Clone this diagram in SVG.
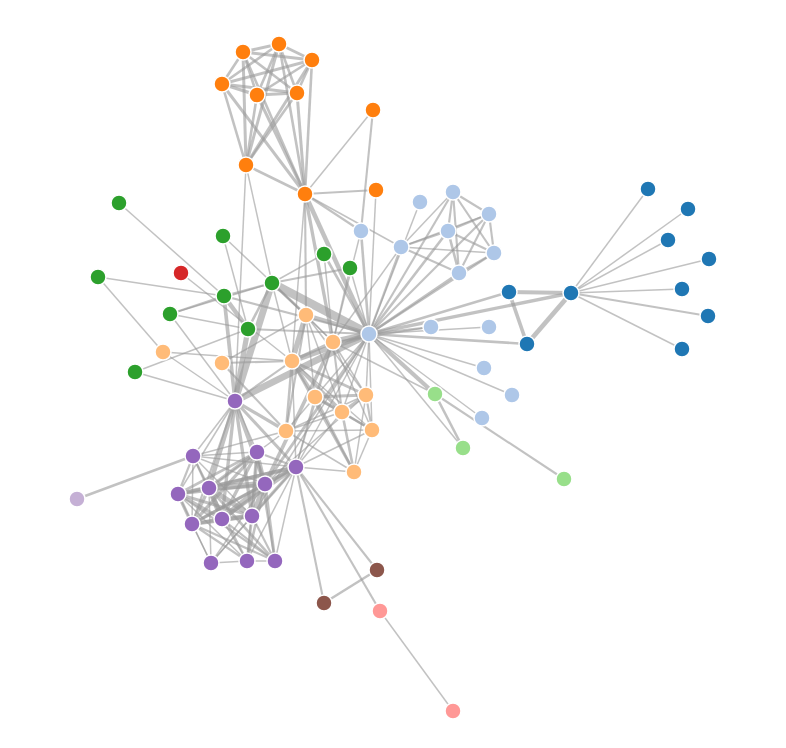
<svg xmlns="http://www.w3.org/2000/svg" width="786" height="748" viewBox="0 0 786 748">
<style>
#links line{stroke:#999;stroke-opacity:0.6}
.w1{stroke-width:1.5}.w2{stroke-width:2.12}.w3{stroke-width:2.6}.w4{stroke-width:3}.w5{stroke-width:3.35}.w6{stroke-width:3.67}.w7{stroke-width:3.97}.w8{stroke-width:4.24}.w9{stroke-width:4.5}.w10{stroke-width:4.74}.w12{stroke-width:5.2}.w13{stroke-width:5.41}.w15{stroke-width:5.81}.w17{stroke-width:6.18}.w19{stroke-width:6.54}.w21{stroke-width:6.87}.w31{stroke-width:8.35}
#nodes circle{r:8px;stroke:#fff;stroke-width:1.5}
.g0{fill:#98df8a}.g1{fill:#1f77b4}.g2{fill:#aec7e8}.g3{fill:#ff7f0e}.g4{fill:#ffbb78}.g5{fill:#2ca02c}.g6{fill:#d62728}.g7{fill:#ff9896}.g8{fill:#9467bd}.g9{fill:#c5b0d5}.g10{fill:#8c564b}
</style>
<rect width="786" height="748" fill="#fff"/>
<g id="links">
<line class="w1" x1="648" y1="189" x2="571" y2="293"/>
<line class="w8" x1="509" y1="292" x2="571" y2="293"/>
<line class="w10" x1="527" y1="344" x2="571" y2="293"/>
<line class="w6" x1="527" y1="344" x2="509" y2="292"/>
<line class="w1" x1="688" y1="209" x2="571" y2="293"/>
<line class="w1" x1="668" y1="240" x2="571" y2="293"/>
<line class="w1" x1="709" y1="259" x2="571" y2="293"/>
<line class="w1" x1="682" y1="289" x2="571" y2="293"/>
<line class="w2" x1="708" y1="316" x2="571" y2="293"/>
<line class="w1" x1="682" y1="349" x2="571" y2="293"/>
<line class="w1" x1="369" y1="334" x2="420" y2="202"/>
<line class="w3" x1="369" y1="334" x2="527" y2="344"/>
<line class="w3" x1="369" y1="334" x2="509" y2="292"/>
<line class="w5" x1="369" y1="334" x2="571" y2="293"/>
<line class="w1" x1="376" y1="190" x2="369" y2="334"/>
<line class="w1" x1="489" y1="327" x2="369" y2="334"/>
<line class="w1" x1="484" y1="368" x2="369" y2="334"/>
<line class="w1" x1="512" y1="395" x2="369" y2="334"/>
<line class="w4" x1="243" y1="52" x2="246" y2="165"/>
<line class="w4" x1="279" y1="44" x2="246" y2="165"/>
<line class="w4" x1="279" y1="44" x2="243" y2="52"/>
<line class="w4" x1="312" y1="60" x2="246" y2="165"/>
<line class="w4" x1="312" y1="60" x2="243" y2="52"/>
<line class="w4" x1="312" y1="60" x2="279" y2="44"/>
<line class="w3" x1="222" y1="84" x2="246" y2="165"/>
<line class="w3" x1="222" y1="84" x2="243" y2="52"/>
<line class="w3" x1="222" y1="84" x2="279" y2="44"/>
<line class="w4" x1="222" y1="84" x2="312" y2="60"/>
<line class="w3" x1="257" y1="95" x2="246" y2="165"/>
<line class="w3" x1="257" y1="95" x2="243" y2="52"/>
<line class="w3" x1="257" y1="95" x2="279" y2="44"/>
<line class="w3" x1="257" y1="95" x2="312" y2="60"/>
<line class="w5" x1="257" y1="95" x2="222" y2="84"/>
<line class="w3" x1="297" y1="93" x2="246" y2="165"/>
<line class="w3" x1="297" y1="93" x2="243" y2="52"/>
<line class="w3" x1="297" y1="93" x2="279" y2="44"/>
<line class="w3" x1="297" y1="93" x2="312" y2="60"/>
<line class="w4" x1="297" y1="93" x2="222" y2="84"/>
<line class="w4" x1="297" y1="93" x2="257" y2="95"/>
<line class="w3" x1="305" y1="194" x2="246" y2="165"/>
<line class="w3" x1="305" y1="194" x2="243" y2="52"/>
<line class="w3" x1="305" y1="194" x2="279" y2="44"/>
<line class="w3" x1="305" y1="194" x2="312" y2="60"/>
<line class="w4" x1="305" y1="194" x2="222" y2="84"/>
<line class="w4" x1="305" y1="194" x2="257" y2="95"/>
<line class="w4" x1="305" y1="194" x2="297" y2="93"/>
<line class="w2" x1="305" y1="194" x2="376" y2="190"/>
<line class="w9" x1="305" y1="194" x2="369" y2="334"/>
<line class="w2" x1="306" y1="315" x2="305" y2="194"/>
<line class="w7" x1="306" y1="315" x2="369" y2="334"/>
<line class="w13" x1="292" y1="361" x2="306" y2="315"/>
<line class="w1" x1="292" y1="361" x2="305" y2="194"/>
<line class="w12" x1="292" y1="361" x2="369" y2="334"/>
<line class="w4" x1="272" y1="283" x2="306" y2="315"/>
<line class="w31" x1="272" y1="283" x2="369" y2="334"/>
<line class="w1" x1="272" y1="283" x2="246" y2="165"/>
<line class="w1" x1="272" y1="283" x2="292" y2="361"/>
<line class="w17" x1="333" y1="342" x2="369" y2="334"/>
<line class="w5" x1="333" y1="342" x2="305" y2="194"/>
<line class="w5" x1="333" y1="342" x2="292" y2="361"/>
<line class="w1" x1="333" y1="342" x2="306" y2="315"/>
<line class="w1" x1="333" y1="342" x2="272" y2="283"/>
<line class="w8" x1="435" y1="394" x2="369" y2="334"/>
<line class="w1" x1="435" y1="394" x2="333" y2="342"/>
<line class="w1" x1="401" y1="247" x2="305" y2="194"/>
<line class="w1" x1="401" y1="247" x2="333" y2="342"/>
<line class="w2" x1="401" y1="247" x2="369" y2="334"/>
<line class="w1" x1="373" y1="110" x2="305" y2="194"/>
<line class="w2" x1="361" y1="231" x2="373" y2="110"/>
<line class="w3" x1="361" y1="231" x2="369" y2="334"/>
<line class="w2" x1="361" y1="231" x2="305" y2="194"/>
<line class="w1" x1="361" y1="231" x2="333" y2="342"/>
<line class="w1" x1="482" y1="418" x2="369" y2="334"/>
<line class="w2" x1="431" y1="327" x2="369" y2="334"/>
<line class="w1" x1="431" y1="327" x2="333" y2="342"/>
<line class="w3" x1="448" y1="231" x2="369" y2="334"/>
<line class="w2" x1="448" y1="231" x2="401" y2="247"/>
<line class="w3" x1="459" y1="273" x2="369" y2="334"/>
<line class="w3" x1="459" y1="273" x2="448" y2="231"/>
<line class="w2" x1="459" y1="273" x2="401" y2="247"/>
<line class="w2" x1="453" y1="192" x2="448" y2="231"/>
<line class="w2" x1="453" y1="192" x2="459" y2="273"/>
<line class="w2" x1="453" y1="192" x2="369" y2="334"/>
<line class="w1" x1="453" y1="192" x2="401" y2="247"/>
<line class="w2" x1="489" y1="214" x2="448" y2="231"/>
<line class="w2" x1="489" y1="214" x2="459" y2="273"/>
<line class="w2" x1="489" y1="214" x2="453" y2="192"/>
<line class="w2" x1="489" y1="214" x2="369" y2="334"/>
<line class="w1" x1="489" y1="214" x2="401" y2="247"/>
<line class="w2" x1="494" y1="253" x2="448" y2="231"/>
<line class="w2" x1="494" y1="253" x2="459" y2="273"/>
<line class="w2" x1="494" y1="253" x2="453" y2="192"/>
<line class="w2" x1="494" y1="253" x2="489" y2="214"/>
<line class="w2" x1="494" y1="253" x2="369" y2="334"/>
<line class="w1" x1="494" y1="253" x2="401" y2="247"/>
<line class="w1" x1="163" y1="352" x2="292" y2="361"/>
<line class="w1" x1="181" y1="273" x2="292" y2="361"/>
<line class="w2" x1="286" y1="431" x2="306" y2="315"/>
<line class="w3" x1="286" y1="431" x2="292" y2="361"/>
<line class="w2" x1="222" y1="363" x2="286" y2="431"/>
<line class="w2" x1="222" y1="363" x2="292" y2="361"/>
<line class="w1" x1="222" y1="363" x2="306" y2="315"/>
<line class="w3" x1="324" y1="254" x2="369" y2="334"/>
<line class="w1" x1="324" y1="254" x2="272" y2="283"/>
<line class="w1" x1="324" y1="254" x2="333" y2="342"/>
<line class="w3" x1="463" y1="448" x2="435" y2="394"/>
<line class="w1" x1="463" y1="448" x2="369" y2="334"/>
<line class="w2" x1="564" y1="479" x2="435" y2="394"/>
<line class="w1" x1="380" y1="611" x2="453" y2="711"/>
<line class="w2" x1="296" y1="467" x2="380" y2="611"/>
<line class="w1" x1="296" y1="467" x2="292" y2="361"/>
<line class="w1" x1="296" y1="467" x2="333" y2="342"/>
<line class="w1" x1="296" y1="467" x2="369" y2="334"/>
<line class="w3" x1="248" y1="329" x2="272" y2="283"/>
<line class="w2" x1="248" y1="329" x2="369" y2="334"/>
<line class="w1" x1="223" y1="236" x2="248" y2="329"/>
<line class="w1" x1="223" y1="236" x2="306" y2="315"/>
<line class="w9" x1="224" y1="296" x2="248" y2="329"/>
<line class="w2" x1="224" y1="296" x2="272" y2="283"/>
<line class="w2" x1="224" y1="296" x2="369" y2="334"/>
<line class="w1" x1="98" y1="277" x2="224" y2="296"/>
<line class="w1" x1="98" y1="277" x2="163" y2="352"/>
<line class="w1" x1="119" y1="203" x2="224" y2="296"/>
<line class="w2" x1="170" y1="314" x2="224" y2="296"/>
<line class="w1" x1="170" y1="314" x2="248" y2="329"/>
<line class="w1" x1="170" y1="314" x2="272" y2="283"/>
<line class="w6" x1="235" y1="401" x2="224" y2="296"/>
<line class="w12" x1="235" y1="401" x2="248" y2="329"/>
<line class="w1" x1="235" y1="401" x2="163" y2="352"/>
<line class="w1" x1="235" y1="401" x2="170" y2="314"/>
<line class="w21" x1="235" y1="401" x2="272" y2="283"/>
<line class="w19" x1="235" y1="401" x2="369" y2="334"/>
<line class="w1" x1="235" y1="401" x2="246" y2="165"/>
<line class="w2" x1="235" y1="401" x2="292" y2="361"/>
<line class="w5" x1="235" y1="401" x2="286" y2="431"/>
<line class="w4" x1="235" y1="401" x2="296" y2="467"/>
<line class="w1" x1="135" y1="372" x2="248" y2="329"/>
<line class="w1" x1="135" y1="372" x2="235" y2="401"/>
<line class="w1" x1="193" y1="456" x2="235" y2="401"/>
<line class="w1" x1="193" y1="456" x2="286" y2="431"/>
<line class="w1" x1="193" y1="456" x2="296" y2="467"/>
<line class="w7" x1="265" y1="484" x2="235" y2="401"/>
<line class="w7" x1="265" y1="484" x2="296" y2="467"/>
<line class="w6" x1="265" y1="484" x2="333" y2="342"/>
<line class="w1" x1="265" y1="484" x2="193" y2="456"/>
<line class="w4" x1="265" y1="484" x2="369" y2="334"/>
<line class="w15" x1="222" y1="519" x2="265" y2="484"/>
<line class="w5" x1="222" y1="519" x2="235" y2="401"/>
<line class="w6" x1="222" y1="519" x2="296" y2="467"/>
<line class="w2" x1="222" y1="519" x2="193" y2="456"/>
<line class="w1" x1="275" y1="561" x2="296" y2="467"/>
<line class="w4" x1="275" y1="561" x2="265" y2="484"/>
<line class="w2" x1="275" y1="561" x2="222" y2="519"/>
<line class="w2" x1="257" y1="452" x2="296" y2="467"/>
<line class="w6" x1="257" y1="452" x2="265" y2="484"/>
<line class="w2" x1="257" y1="452" x2="275" y2="561"/>
<line class="w5" x1="257" y1="452" x2="222" y2="519"/>
<line class="w1" x1="257" y1="452" x2="193" y2="456"/>
<line class="w1" x1="257" y1="452" x2="235" y2="401"/>
<line class="w9" x1="209" y1="488" x2="235" y2="401"/>
<line class="w17" x1="209" y1="488" x2="265" y2="484"/>
<line class="w13" x1="209" y1="488" x2="222" y2="519"/>
<line class="w7" x1="209" y1="488" x2="296" y2="467"/>
<line class="w2" x1="209" y1="488" x2="193" y2="456"/>
<line class="w1" x1="209" y1="488" x2="286" y2="431"/>
<line class="w6" x1="209" y1="488" x2="257" y2="452"/>
<line class="w3" x1="209" y1="488" x2="275" y2="561"/>
<line class="w5" x1="178" y1="494" x2="222" y2="519"/>
<line class="w5" x1="178" y1="494" x2="296" y2="467"/>
<line class="w6" x1="178" y1="494" x2="209" y2="488"/>
<line class="w2" x1="178" y1="494" x2="193" y2="456"/>
<line class="w4" x1="178" y1="494" x2="265" y2="484"/>
<line class="w3" x1="178" y1="494" x2="257" y2="452"/>
<line class="w2" x1="178" y1="494" x2="275" y2="561"/>
<line class="w1" x1="178" y1="494" x2="235" y2="401"/>
<line class="w5" x1="252" y1="516" x2="235" y2="401"/>
<line class="w12" x1="252" y1="516" x2="209" y2="488"/>
<line class="w5" x1="252" y1="516" x2="296" y2="467"/>
<line class="w4" x1="252" y1="516" x2="178" y2="494"/>
<line class="w10" x1="252" y1="516" x2="265" y2="484"/>
<line class="w6" x1="252" y1="516" x2="257" y2="452"/>
<line class="w2" x1="252" y1="516" x2="275" y2="561"/>
<line class="w9" x1="252" y1="516" x2="222" y2="519"/>
<line class="w1" x1="252" y1="516" x2="193" y2="456"/>
<line class="w1" x1="252" y1="516" x2="369" y2="334"/>
<line class="w5" x1="192" y1="524" x2="178" y2="494"/>
<line class="w7" x1="192" y1="524" x2="252" y2="516"/>
<line class="w3" x1="192" y1="524" x2="296" y2="467"/>
<line class="w5" x1="192" y1="524" x2="209" y2="488"/>
<line class="w5" x1="192" y1="524" x2="265" y2="484"/>
<line class="w5" x1="192" y1="524" x2="257" y2="452"/>
<line class="w2" x1="192" y1="524" x2="275" y2="561"/>
<line class="w5" x1="192" y1="524" x2="222" y2="519"/>
<line class="w1" x1="192" y1="524" x2="193" y2="456"/>
<line class="w2" x1="192" y1="524" x2="235" y2="401"/>
<line class="w3" x1="247" y1="561" x2="252" y2="516"/>
<line class="w3" x1="247" y1="561" x2="265" y2="484"/>
<line class="w1" x1="247" y1="561" x2="222" y2="519"/>
<line class="w2" x1="247" y1="561" x2="209" y2="488"/>
<line class="w2" x1="247" y1="561" x2="192" y2="524"/>
<line class="w1" x1="247" y1="561" x2="296" y2="467"/>
<line class="w1" x1="247" y1="561" x2="178" y2="494"/>
<line class="w1" x1="247" y1="561" x2="257" y2="452"/>
<line class="w1" x1="247" y1="561" x2="275" y2="561"/>
<line class="w3" x1="77" y1="499" x2="193" y2="456"/>
<line class="w5" x1="315" y1="397" x2="292" y2="361"/>
<line class="w1" x1="315" y1="397" x2="369" y2="334"/>
<line class="w1" x1="315" y1="397" x2="306" y2="315"/>
<line class="w1" x1="315" y1="397" x2="333" y2="342"/>
<line class="w1" x1="315" y1="397" x2="296" y2="467"/>
<line class="w1" x1="315" y1="397" x2="286" y2="431"/>
<line class="w6" x1="342" y1="412" x2="292" y2="361"/>
<line class="w6" x1="342" y1="412" x2="315" y2="397"/>
<line class="w1" x1="342" y1="412" x2="369" y2="334"/>
<line class="w1" x1="342" y1="412" x2="306" y2="315"/>
<line class="w2" x1="342" y1="412" x2="333" y2="342"/>
<line class="w1" x1="342" y1="412" x2="296" y2="467"/>
<line class="w1" x1="342" y1="412" x2="286" y2="431"/>
<line class="w4" x1="366" y1="395" x2="292" y2="361"/>
<line class="w4" x1="366" y1="395" x2="342" y2="412"/>
<line class="w4" x1="366" y1="395" x2="315" y2="397"/>
<line class="w1" x1="366" y1="395" x2="369" y2="334"/>
<line class="w1" x1="366" y1="395" x2="306" y2="315"/>
<line class="w1" x1="366" y1="395" x2="333" y2="342"/>
<line class="w1" x1="366" y1="395" x2="286" y2="431"/>
<line class="w1" x1="366" y1="395" x2="265" y2="484"/>
<line class="w1" x1="372" y1="430" x2="333" y2="342"/>
<line class="w2" x1="372" y1="430" x2="342" y2="412"/>
<line class="w2" x1="372" y1="430" x2="315" y2="397"/>
<line class="w2" x1="372" y1="430" x2="366" y2="395"/>
<line class="w1" x1="372" y1="430" x2="369" y2="334"/>
<line class="w1" x1="372" y1="430" x2="296" y2="467"/>
<line class="w1" x1="372" y1="430" x2="286" y2="431"/>
<line class="w1" x1="372" y1="430" x2="292" y2="361"/>
<line class="w2" x1="350" y1="268" x2="272" y2="283"/>
<line class="w1" x1="350" y1="268" x2="333" y2="342"/>
<line class="w1" x1="350" y1="268" x2="369" y2="334"/>
<line class="w2" x1="377" y1="570" x2="296" y2="467"/>
<line class="w2" x1="324" y1="603" x2="296" y2="467"/>
<line class="w3" x1="324" y1="603" x2="377" y2="570"/>
<line class="w3" x1="354" y1="472" x2="342" y2="412"/>
<line class="w3" x1="354" y1="472" x2="315" y2="397"/>
<line class="w3" x1="354" y1="472" x2="292" y2="361"/>
<line class="w1" x1="354" y1="472" x2="296" y2="467"/>
<line class="w1" x1="354" y1="472" x2="286" y2="431"/>
<line class="w1" x1="354" y1="472" x2="366" y2="395"/>
<line class="w1" x1="354" y1="472" x2="372" y2="430"/>
<line class="w1" x1="211" y1="563" x2="252" y2="516"/>
<line class="w1" x1="211" y1="563" x2="192" y2="524"/>
<line class="w1" x1="211" y1="563" x2="247" y2="561"/>
<line class="w1" x1="211" y1="563" x2="178" y2="494"/>
<line class="w1" x1="211" y1="563" x2="209" y2="488"/>
<line class="w1" x1="211" y1="563" x2="296" y2="467"/>
<line class="w1" x1="211" y1="563" x2="265" y2="484"/>
</g>
<g id="nodes">
<g id="Myriel"><circle class="g1" cx="571" cy="293" r="8"/></g>
<g id="Napoleon"><circle class="g1" cx="648" cy="189" r="8"/></g>
<g id="Mlle-Baptistine"><circle class="g1" cx="509" cy="292" r="8"/></g>
<g id="Mme-Magloire"><circle class="g1" cx="527" cy="344" r="8"/></g>
<g id="CountessdeLo"><circle class="g1" cx="688" cy="209" r="8"/></g>
<g id="Geborand"><circle class="g1" cx="668" cy="240" r="8"/></g>
<g id="Champtercier"><circle class="g1" cx="709" cy="259" r="8"/></g>
<g id="Cravatte"><circle class="g1" cx="682" cy="289" r="8"/></g>
<g id="Count"><circle class="g1" cx="708" cy="316" r="8"/></g>
<g id="OldMan"><circle class="g1" cx="682" cy="349" r="8"/></g>
<g id="Labarre"><circle class="g2" cx="420" cy="202" r="8"/></g>
<g id="Valjean"><circle class="g2" cx="369" cy="334" r="8"/></g>
<g id="Marguerite"><circle class="g3" cx="376" cy="190" r="8"/></g>
<g id="Mme-deR"><circle class="g2" cx="489" cy="327" r="8"/></g>
<g id="Isabeau"><circle class="g2" cx="484" cy="368" r="8"/></g>
<g id="Gervais"><circle class="g2" cx="512" cy="395" r="8"/></g>
<g id="Tholomyes"><circle class="g3" cx="246" cy="165" r="8"/></g>
<g id="Listolier"><circle class="g3" cx="243" cy="52" r="8"/></g>
<g id="Fameuil"><circle class="g3" cx="279" cy="44" r="8"/></g>
<g id="Blacheville"><circle class="g3" cx="312" cy="60" r="8"/></g>
<g id="Favourite"><circle class="g3" cx="222" cy="84" r="8"/></g>
<g id="Dahlia"><circle class="g3" cx="257" cy="95" r="8"/></g>
<g id="Zephine"><circle class="g3" cx="297" cy="93" r="8"/></g>
<g id="Fantine"><circle class="g3" cx="305" cy="194" r="8"/></g>
<g id="Mme-Thenardier"><circle class="g4" cx="306" cy="315" r="8"/></g>
<g id="Thenardier"><circle class="g4" cx="292" cy="361" r="8"/></g>
<g id="Cosette"><circle class="g5" cx="272" cy="283" r="8"/></g>
<g id="Javert"><circle class="g4" cx="333" cy="342" r="8"/></g>
<g id="Fauchelevent"><circle class="g0" cx="435" cy="394" r="8"/></g>
<g id="Bamatabois"><circle class="g2" cx="401" cy="247" r="8"/></g>
<g id="Perpetue"><circle class="g3" cx="373" cy="110" r="8"/></g>
<g id="Simplice"><circle class="g2" cx="361" cy="231" r="8"/></g>
<g id="Scaufflaire"><circle class="g2" cx="482" cy="418" r="8"/></g>
<g id="Woman1"><circle class="g2" cx="431" cy="327" r="8"/></g>
<g id="Judge"><circle class="g2" cx="448" cy="231" r="8"/></g>
<g id="Champmathieu"><circle class="g2" cx="459" cy="273" r="8"/></g>
<g id="Brevet"><circle class="g2" cx="453" cy="192" r="8"/></g>
<g id="Chenildieu"><circle class="g2" cx="489" cy="214" r="8"/></g>
<g id="Cochepaille"><circle class="g2" cx="494" cy="253" r="8"/></g>
<g id="Pontmercy"><circle class="g4" cx="163" cy="352" r="8"/></g>
<g id="Boulatruelle"><circle class="g6" cx="181" cy="273" r="8"/></g>
<g id="Eponine"><circle class="g4" cx="286" cy="431" r="8"/></g>
<g id="Anzelma"><circle class="g4" cx="222" cy="363" r="8"/></g>
<g id="Woman2"><circle class="g5" cx="324" cy="254" r="8"/></g>
<g id="MotherInnocent"><circle class="g0" cx="463" cy="448" r="8"/></g>
<g id="Gribier"><circle class="g0" cx="564" cy="479" r="8"/></g>
<g id="Jondrette"><circle class="g7" cx="453" cy="711" r="8"/></g>
<g id="Mme-Burgon"><circle class="g7" cx="380" cy="611" r="8"/></g>
<g id="Gavroche"><circle class="g8" cx="296" cy="467" r="8"/></g>
<g id="Gillenormand"><circle class="g5" cx="248" cy="329" r="8"/></g>
<g id="Magnon"><circle class="g5" cx="223" cy="236" r="8"/></g>
<g id="Mlle-Gillenormand"><circle class="g5" cx="224" cy="296" r="8"/></g>
<g id="Mme-Pontmercy"><circle class="g5" cx="98" cy="277" r="8"/></g>
<g id="Mlle-Vaubois"><circle class="g5" cx="119" cy="203" r="8"/></g>
<g id="Lt-Gillenormand"><circle class="g5" cx="170" cy="314" r="8"/></g>
<g id="Marius"><circle class="g8" cx="235" cy="401" r="8"/></g>
<g id="BaronessT"><circle class="g5" cx="135" cy="372" r="8"/></g>
<g id="Mabeuf"><circle class="g8" cx="193" cy="456" r="8"/></g>
<g id="Enjolras"><circle class="g8" cx="265" cy="484" r="8"/></g>
<g id="Combeferre"><circle class="g8" cx="222" cy="519" r="8"/></g>
<g id="Prouvaire"><circle class="g8" cx="275" cy="561" r="8"/></g>
<g id="Feuilly"><circle class="g8" cx="257" cy="452" r="8"/></g>
<g id="Courfeyrac"><circle class="g8" cx="209" cy="488" r="8"/></g>
<g id="Bahorel"><circle class="g8" cx="178" cy="494" r="8"/></g>
<g id="Bossuet"><circle class="g8" cx="252" cy="516" r="8"/></g>
<g id="Joly"><circle class="g8" cx="192" cy="524" r="8"/></g>
<g id="Grantaire"><circle class="g8" cx="247" cy="561" r="8"/></g>
<g id="MotherPlutarch"><circle class="g9" cx="77" cy="499" r="8"/></g>
<g id="Gueulemer"><circle class="g4" cx="315" cy="397" r="8"/></g>
<g id="Babet"><circle class="g4" cx="342" cy="412" r="8"/></g>
<g id="Claquesous"><circle class="g4" cx="366" cy="395" r="8"/></g>
<g id="Montparnasse"><circle class="g4" cx="372" cy="430" r="8"/></g>
<g id="Toussaint"><circle class="g5" cx="350" cy="268" r="8"/></g>
<g id="Child1"><circle class="g10" cx="377" cy="570" r="8"/></g>
<g id="Child2"><circle class="g10" cx="324" cy="603" r="8"/></g>
<g id="Brujon"><circle class="g4" cx="354" cy="472" r="8"/></g>
<g id="Mme-Hucheloup"><circle class="g8" cx="211" cy="563" r="8"/></g>
</g>
</svg>
